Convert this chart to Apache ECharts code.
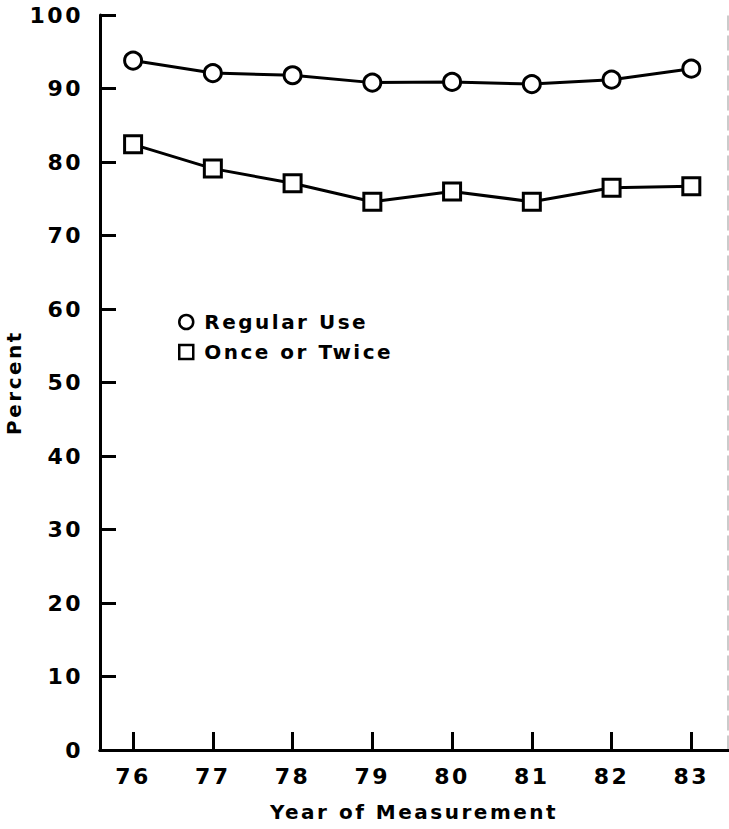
<!DOCTYPE html>
<html>
<head>
<meta charset="utf-8">
<script src="https://cdn.jsdelivr.net/npm/echarts@6/dist/echarts.min.js"></script>
<style>
  html, body { margin: 0; padding: 0; background: #fff; }
  #chart { width: 729px; height: 829px; }
  #chart svg text { letter-spacing: 2.5px; }
</style>
</head>
<body>
<div id="chart"></div>
<script>
// Year of measurement (19xx) and percentages for each group
const years = [76, 77, 78, 79, 80, 81, 82, 83];
const yearLabels = ['76', '77', '78', '79', '80', '81', '82', '83'];
const regularUse = [93.8, 92.1, 91.8, 90.8, 90.9, 90.6, 91.2, 92.7];
const onceOrTwice = [82.4, 79.1, 77.1, 74.6, 76.0, 74.6, 76.5, 76.7];
const percentTicks = [0, 10, 20, 30, 40, 50, 60, 70, 80, 90, 100];

const FONT = 'DejaVu Sans';
const pairs = (vals) => years.map((y, i) => [y, vals[i]]);

const chart = echarts.init(document.getElementById('chart'), null, { renderer: 'svg' });

chart.setOption({
  animation: false,
  backgroundColor: '#fff',
  grid: { left: 100, right: 1, top: 15, bottom: 79, containLabel: false, outerBoundsMode: 'none' },
  legend: {
    orient: 'vertical',
    left: 178,
    top: 312,
    padding: 0,
    itemWidth: 14,
    itemHeight: 14,
    itemGap: 10,
    selectedMode: false,
    itemStyle: { color: '#fff', borderColor: '#000', borderWidth: 2.5 },
    textStyle: { fontFamily: FONT, fontWeight: 'bold', fontSize: 20, color: '#000', padding: [0, 0, 0, 6] },
    data: [
      { name: 'Regular Use', icon: 'circle' },
      { name: 'Once or Twice', icon: 'rect' }
    ]
  },
  xAxis: [
    {
      type: 'value',
      min: 75.585,
      max: 83.46,
      position: 'bottom',
      splitLine: { show: false },
      axisLine: { lineStyle: { color: '#000', width: 3 } },
      axisTick: {
        inside: true, length: 18, customValues: years,
        lineStyle: { color: '#000', width: 3 }
      },
      axisLabel: {
        customValues: years,
        formatter: (v) => yearLabels[years.indexOf(Math.round(v))] || '',
        fontFamily: FONT, fontWeight: 'bold', fontSize: 22, color: '#000', margin: 15
      },
      name: 'Year of Measurement',
      nameLocation: 'middle',
      nameGap: 52,
      nameTextStyle: { fontFamily: FONT, fontWeight: 'bold', fontSize: 20, color: '#000' }
    },
    {
      type: 'value',
      min: 75.585,
      max: 83.46,
      position: 'top',
      splitLine: { show: false },
      axisLine: { lineStyle: { color: '#000', width: 3 } },
      axisTick: { show: false },
      axisLabel: { show: false }
    }
  ],
  yAxis: [
    {
      type: 'value',
      min: 0,
      max: 100,
      interval: 10,
      position: 'left',
      splitLine: { show: false },
      axisLine: { show: true, lineStyle: { color: '#000', width: 3 } },
      axisTick: { show: true, inside: true, length: 16, lineStyle: { color: '#000', width: 3 } },
      axisLabel: {
        formatter: (v) => (percentTicks.includes(v) ? String(v) : ''),
        fontFamily: FONT, fontWeight: 'bold', fontSize: 22, color: '#000', margin: 17
      },
      name: 'Percent',
      nameLocation: 'middle',
      nameRotate: 90,
      nameGap: 76,
      nameTextStyle: { fontFamily: FONT, fontWeight: 'bold', fontSize: 20, color: '#000' }
    },
    {
      type: 'value',
      min: 0,
      max: 100,
      position: 'right',
      splitLine: { show: false },
      axisLine: { show: true, lineStyle: { color: '#bbb', width: 1.5, type: [14, 6] } },
      axisTick: { show: false },
      axisLabel: { show: false }
    }
  ],
  series: [
    {
      name: 'Regular Use',
      type: 'line',
      data: pairs(regularUse),
      symbol: 'circle',
      symbolSize: 17,
      lineStyle: { color: '#000', width: 3 },
      itemStyle: { color: '#fff', borderColor: '#000', borderWidth: 3 },
      z: 3
    },
    {
      name: 'Once or Twice',
      type: 'line',
      data: pairs(onceOrTwice),
      symbol: 'rect',
      symbolSize: 17,
      lineStyle: { color: '#000', width: 3 },
      itemStyle: { color: '#fff', borderColor: '#000', borderWidth: 3 },
      z: 3
    }
  ]
});
</script>
</body>
</html>
